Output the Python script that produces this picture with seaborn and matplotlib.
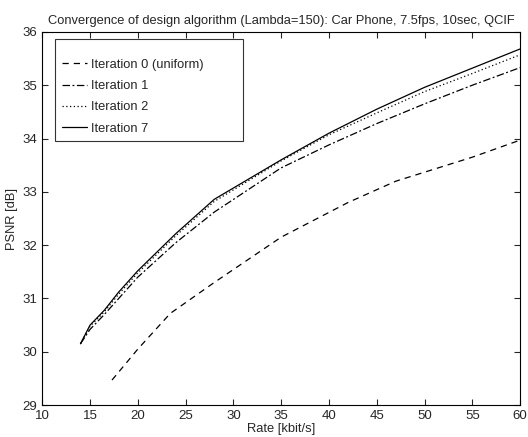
"""Convergence of design algorithm: PSNR vs rate for several iterations"""
import numpy as np
import matplotlib
matplotlib.use("Agg")
import matplotlib.pyplot as plt
import seaborn as sns
import pandas as pd

# iteration 0 (uniform)
rate_it0 = [17.3, 20, 23.4, 28, 35, 42, 47, 55, 60]
psnr_it0 = [29.47, 30.05, 30.72, 31.3, 32.15, 32.8, 33.2, 33.65, 33.97]

# iteration 1
rate_it1 = [14, 15, 16.5, 18, 20, 24, 28, 35, 40, 45, 50, 55, 60]
psnr_it1 = [30.15, 30.42, 30.7, 31.0, 31.4, 32.05, 32.62, 33.45, 33.88, 34.28, 34.65, 35.0, 35.33]

# iteration 2
rate_it2 = [14, 15, 16.5, 18, 20, 24, 28, 35, 40, 45, 50, 55, 60]
psnr_it2 = [30.15, 30.48, 30.75, 31.08, 31.48, 32.18, 32.82, 33.58, 34.07, 34.48, 34.88, 35.22, 35.57]

# iteration 7
rate_it7 = [14, 15, 16.5, 18, 20, 24, 28, 35, 40, 45, 50, 55, 60]
psnr_it7 = [30.15, 30.5, 30.78, 31.12, 31.52, 32.22, 32.86, 33.6, 34.1, 34.55, 34.96, 35.32, 35.68]

labels = ["Iteration 0 (uniform)", "Iteration 1", "Iteration 2", "Iteration 7"]
styles = [(0, (5, 4)), (0, (6, 2, 1.5, 2)), (0, (1, 2)), "-"]

sns.set_style("ticks")
plt.rcParams["font.family"] = ["Liberation Sans", "DejaVu Sans"]

fig = plt.figure(figsize=(5.28, 4.37), dpi=100)
ax = fig.add_axes([0.080, 0.073, 0.905, 0.854])

data = [(rate_it0, psnr_it0), (rate_it1, psnr_it1), (rate_it2, psnr_it2), (rate_it7, psnr_it7)]
for (r, p), lab, ls in zip(data, labels, styles):
    df = pd.DataFrame({"Rate": r, "PSNR": p})
    sns.lineplot(x="Rate", y="PSNR", data=df, ax=ax, color="black",
                 linestyle=ls, linewidth=0.9, label=lab)

ax.set_xlim(10, 60)
ax.set_ylim(29, 36)
ax.set_xticks(np.arange(10, 61, 5))
ax.set_yticks(np.arange(29, 37, 1))
ax.tick_params(direction="in", top=True, right=True, labelsize=9.5, length=4, width=0.8)
for s in ax.spines.values():
    s.set_visible(True)
    s.set_linewidth(0.8)
    s.set_color("black")

ax.set_xlabel("Rate [kbit/s]", fontsize=9.3, labelpad=1)
ax.set_ylabel("PSNR [dB]", fontsize=9.3, labelpad=3)
ax.set_title("Convergence of design algorithm (Lambda=150): Car Phone, 7.5fps, 10sec, QCIF",
             fontsize=9.3, pad=6)

# blank tiny title just to push the entries down a bit inside the box
leg = ax.legend(loc="upper left", fontsize=9.3, frameon=True, fancybox=False,
                edgecolor="black", handlelength=2.0, handletextpad=0.3,
                labelspacing=0.72, borderpad=0.5, borderaxespad=0, mode="expand",
                title=" ", title_fontsize=2,
                bbox_to_anchor=(0.027, 0.70, 0.393, 0.281))
leg.get_frame().set_linewidth(0.8)

fig.savefig("out.png", dpi=100)
